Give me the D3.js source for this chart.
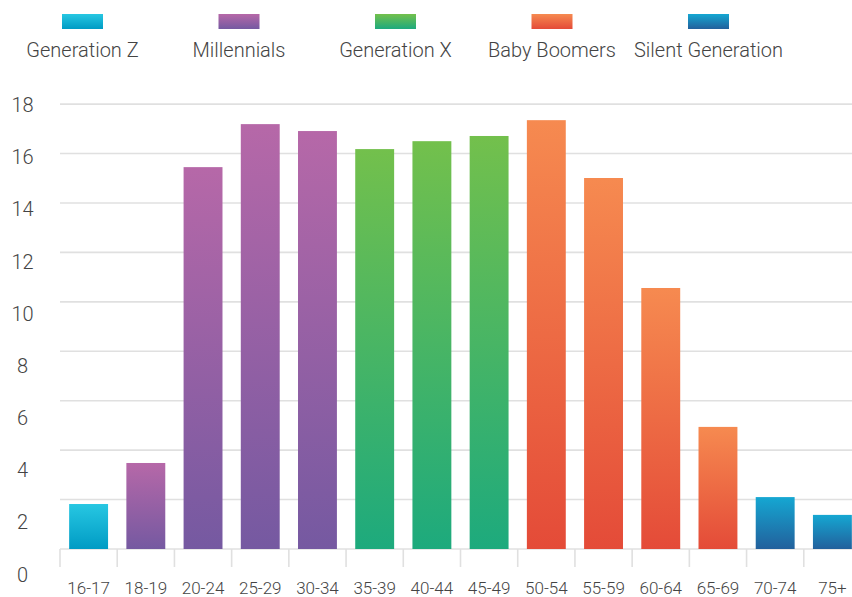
<!DOCTYPE html>
<html>
<head>
<meta charset="utf-8">
<script src="https://cdn.jsdelivr.net/npm/d3@7"></script>
<style>
  html, body { margin: 0; padding: 0; background: #fff; overflow: hidden; }
  svg { display: block; font-family: Roboto, "Noto Sans", sans-serif; }
</style>
</head>
<body>
<svg id="chart" width="852" height="597"></svg>
<script>
// Age bands and their share (%)
const categories = ["16-17","18-19","20-24","25-29","30-34","35-39","40-44","45-49","50-54","55-59","60-64","65-69","70-74","75+"];
const values = [1.82, 3.48, 15.45, 17.19, 16.91, 16.18, 16.5, 16.71, 17.35, 15.01, 10.56, 4.94, 2.1, 1.38];
const generationOf = [0, 1, 1, 1, 1, 2, 2, 2, 3, 3, 3, 3, 4, 4];

const generations = ["Generation Z", "Millennials", "Generation X", "Baby Boomers", "Silent Generation"];
const genTop =    ["#27c7e2", "#b668a8", "#73c04c", "#f68a50", "#15a7d2"];
const genBottom = ["#009bc4", "#7559a1", "#1daa7d", "#e44b38", "#22609c"];

const yTicks = [0, 2, 4, 6, 8, 10, 12, 14, 16, 18];

const svg = d3.select("#chart");
const defs = svg.append("defs");

generations.forEach((g, i) => {
  const lg = defs.append("linearGradient")
    .attr("id", "grad" + i)
    .attr("x1", 0).attr("y1", 0).attr("x2", 0).attr("y2", 1);
  lg.append("stop").attr("offset", "0%").attr("stop-color", genTop[i]);
  lg.append("stop").attr("offset", "100%").attr("stop-color", genBottom[i]);
});

const x = d3.scaleBand()
  .domain(categories)
  .range([60, 861])
  .paddingInner(0.32)
  .paddingOuter(0.16);

const y = d3.scaleLinear().domain([0, 18]).range([549, 104.1]);
// tick labels sit on their own evenly spaced track
const yLabel = d3.scaleLinear().domain([0, 18]).range([574.3, 105]);

// gridlines
svg.append("g")
  .selectAll("line")
  .data(yTicks)
  .join("line")
  .attr("x1", 60).attr("x2", 852)
  .attr("y1", d => y(d)).attr("y2", d => y(d))
  .attr("stroke", "#e0e0e0")
  .attr("stroke-width", 1.6);

// y tick labels
svg.append("g")
  .selectAll("text")
  .data(yTicks)
  .join("text")
  .attr("x", 22.5)
  .attr("y", d => yLabel(d))
  .attr("dy", "0.36em")
  .attr("text-anchor", "middle")
  .attr("font-size", 20)
  .attr("font-weight", 300)
  .attr("fill", "#444")
  .text(d => d);

// bars
svg.append("g")
  .selectAll("rect")
  .data(categories)
  .join("rect")
  .attr("x", d => x(d))
  .attr("width", x.bandwidth())
  .attr("y", (d, i) => y(values[i]))
  .attr("height", (d, i) => y(0) - y(values[i]))
  .attr("fill", (d, i) => `url(#grad${generationOf[i]})`);

// x axis ticks at band boundaries
const step = x.step();
const boundaries = categories.map(c => x(c) - step * x.paddingInner() / 2);
svg.append("g")
  .selectAll("line")
  .data(boundaries)
  .join("line")
  .attr("x1", d => d).attr("x2", d => d)
  .attr("y1", 549).attr("y2", 567)
  .attr("stroke", "#e0e0e0")
  .attr("stroke-width", 1.6);

// x labels
svg.append("g")
  .selectAll("text")
  .data(categories)
  .join("text")
  .attr("x", d => x(d) + x.bandwidth() / 2)
  .attr("y", 594)
  .attr("text-anchor", "middle")
  .attr("font-size", 17)
  .attr("font-weight", 300)
  .attr("fill", "#444")
  .text(d => d);

// legend
const legendX = d3.scalePoint().domain(generations).range([82.5, 708.5]);
const legend = svg.append("g")
  .selectAll("g")
  .data(generations)
  .join("g")
  .attr("transform", d => `translate(${legendX(d)},0)`);
legend.append("rect")
  .attr("x", -20.5).attr("y", 14)
  .attr("width", 41).attr("height", 15)
  .attr("fill", (d, i) => `url(#grad${i})`);
legend.append("text")
  .attr("y", 57)
  .attr("text-anchor", "middle")
  .attr("font-size", 20)
  .attr("font-weight", 300)
  .attr("fill", "#444")
  .text(d => d);
</script>
</body>
</html>
